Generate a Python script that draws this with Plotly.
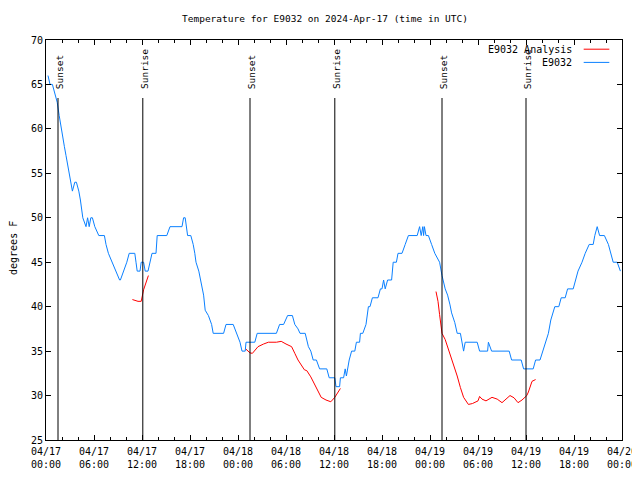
import plotly.graph_objects as go
from datetime import datetime, timedelta

BASE = datetime(2024, 4, 17, 0, 0)

# Observed temperature E9032 (hours since 04/17 00:00 UTC, deg F)
obs_hours = [0.25,0.5,0.8,1.1,1.4,1.65,1.9,2.3,2.5,2.7,2.9,3.1,3.3,3.6,3.8,4.1,4.3,4.6,5.0,5.2,5.4,5.6,5.8,6.1,6.6,7.3,7.5,7.8,8.25,8.75,9.2,9.3,9.75,10.1,10.4,11.1,11.25,11.4,11.75,11.9,12.2,12.4,12.75,13.0,13.25,13.75,13.9,15.1,15.5,17.0,17.2,17.4,17.7,18.1,18.4,18.6,18.75,19.1,19.3,19.7,19.9,20.3,20.7,20.9,22.2,22.5,23.4,23.8,24.25,24.5,24.9,25.0,26.1,26.4,28.8,29.2,29.7,30.2,30.8,31.1,31.5,31.75,32.4,32.8,33.1,33.4,33.8,34.2,35.1,35.4,36.1,36.25,36.7,36.8,37.2,37.4,37.55,37.9,38.2,38.6,38.8,39.2,39.3,39.6,40.0,40.3,40.5,40.8,41.5,41.8,42.0,42.2,42.4,42.7,43.2,43.4,43.8,44.0,44.5,44.9,45.3,46.4,46.7,46.9,47.1,47.2,47.3,47.5,47.8,48.2,48.6,49.2,49.5,49.9,50.2,50.5,50.7,51.1,51.4,51.8,52.2,52.4,53.9,54.2,55.2,55.3,55.5,55.7,57.9,58.2,59.4,59.7,60.9,61.2,61.75,62.1,62.5,62.8,63.1,63.6,64.1,64.4,64.9,65.2,65.9,66.2,66.5,67.0,67.4,67.9,68.4,68.6,68.9,69.2,69.8,70.3,70.6,70.9,71.4,71.8]
obs_temps = [66,65,65,64,63,61.5,60,58,57,56,55,54,53,54,54,53,52,50,49,50,49,50,50,49,48,48,47,46,45,44,43,43,44,45,46,46,45,44,44,45,45,44,44,45,46,46,48,48,49,49,50,50,48,48,47,46,45,44,43,41.3,39.6,39,38,37,37,38,38,37,36,35,35,36,36,37,37,38,38,39,39,38,37.5,37,37,35.5,35,34,34,33,33,32,32,31,31,32,32,33,32.2,34,35,35,36,36,37,37,38,40,40,41,41,42,42,43,42,43,43,45,45,46,46,47,48,48,49,48,49,48,49,48,48,47,46,45,43.5,42,41.3,40.2,39.3,38.2,37,37,35,36,36,35,35,36,35.5,35,35,34,34,33,33,34,34,35,36,37,38.5,40,40,41,41,42,42,43,44,45,46,47,47,48,49,48,48,47,46,45,45,44]

# Analysis E9032 (three separate segments)
ana1_hours = [10.8,11.5,11.9,12.2,12.8]
ana1_temps = [40.8,40.6,40.6,41.9,43.5]
ana2_hours = [24.9,25.5,25.8,26.5,27.2,27.8,28.8,29.4,30.0,30.7,31.1,31.5,32.3,32.6,33.1,33.8,34.4,35.0,35.6,36.1,36.8]
ana2_temps = [35.3,34.8,34.75,35.5,35.8,36.0,36.0,36.1,35.8,35.5,34.75,34.0,32.9,32.8,32.1,30.8,29.8,29.5,29.3,29.8,30.8]
ana3_hours = [48.75,49.0,49.2,49.5,49.9,50.5,50.9,51.4,51.8,52.2,52.8,53.3,54.0,54.2,54.5,55.0,55.75,56.4,57.0,58.0,58.5,59.0,59.5,60.1,60.3,60.75,61.2]
ana3_temps = [41.7,40.6,39.1,37.0,36.3,34.75,33.5,32.2,30.9,29.8,29.0,29.1,29.4,29.9,29.6,29.4,29.8,29.6,29.2,30.0,29.75,29.2,29.5,30.0,30.4,31.6,31.8]

# Sun events (hours since 04/17 00:00)
sun_hours = [1.5, 12.1, 25.5, 36.1, 49.5, 60.0]
sun_labels = ["Sunset", "Sunrise", "Sunset", "Sunrise", "Sunset", "Sunrise"]

title = "Temperature for E9032 on 2024-Apr-17 (time in UTC)"
ylabel = "degrees F"
legend_names = ["E9032 Analysis", "E9032"]
FONT = "DejaVu Sans Mono"
BLUE = "#0a80ff"
RED = "#ff0000"

def t(h):
    return BASE + timedelta(hours=h)

fig = go.Figure()
for hs, ts in [(ana1_hours, ana1_temps), (ana2_hours, ana2_temps), (ana3_hours, ana3_temps)]:
    fig.add_trace(go.Scatter(x=[t(h) for h in hs], y=ts, mode="lines",
                             line=dict(color=RED, width=1), showlegend=False, hoverinfo="skip"))
fig.add_trace(go.Scatter(x=[t(h) for h in obs_hours], y=obs_temps, mode="lines",
                         line=dict(color=BLUE, width=1), showlegend=False, hoverinfo="skip"))

shapes = []
annotations = []
for h, lab in zip(sun_hours, sun_labels):
    shapes.append(dict(type="line", xref="x", yref="paper", x0=t(h), x1=t(h), y0=0, y1=0.855,
                       line=dict(color="black", width=1)))
    annotations.append(dict(x=t(h), y=0.872, xref="x", yref="paper", text=lab, textangle=-90,
                            showarrow=False, xanchor="center", yanchor="bottom", xshift=1,
                            font=dict(family=FONT, size=9.5, color="black")))

# legend (gnuplot style: text then sample line)
for name, col, yp in [(legend_names[0], RED, 0.977), (legend_names[1], BLUE, 0.944)]:
    annotations.append(dict(x=0.9167, y=yp, xref="paper", yref="paper", text=name, showarrow=False,
                            xanchor="right", yanchor="middle",
                            font=dict(family=FONT, size=10, color="black")))
    shapes.append(dict(type="line", xref="paper", yref="paper", x0=0.9335, x1=0.978, y0=yp, y1=yp,
                       line=dict(color=col, width=1)))

annotations.append(dict(x=-0.0573, y=0.48, xref="paper", yref="paper", text=ylabel, textangle=-90,
                        showarrow=False, xanchor="center", yanchor="middle",
                        font=dict(family=FONT, size=10, color="black")))

fig.update_layout(
    width=632, height=464, autosize=False,
    margin=dict(l=38, r=18, t=32, b=32),
    paper_bgcolor="white", plot_bgcolor="white",
    title=dict(text=title, x=0.5016, xanchor="center", y=0.976, yanchor="middle",
               font=dict(family=FONT, size=9.5, color="black")),
    shapes=shapes, annotations=annotations,
    showlegend=False,
)
fig.update_xaxes(
    range=[t(0), t(72)], type="date", automargin=False,
    tickmode="linear", tick0=t(0), dtick=6 * 3600 * 1000,
    tickformat="%m/%d<br>%H:%M", ticklabelstandoff=2,
    ticks="inside", ticklen=5, tickcolor="black",
    minor=dict(ticks="inside", dtick=2 * 3600 * 1000, tick0=t(0), ticklen=3, tickcolor="black"),
    showline=True, linecolor="black", linewidth=1, mirror="ticks",
    showgrid=False, zeroline=False,
    tickfont=dict(family=FONT, size=10, color="black"),
)
fig.update_yaxes(
    range=[25, 70], dtick=5, tick0=25, automargin=False,
    ticks="inside", ticklen=5, tickcolor="black",
    showline=True, linecolor="black", linewidth=1, mirror="ticks",
    showgrid=False, zeroline=False,
    tickfont=dict(family=FONT, size=10, color="black"),
)
fig.write_html("out.html", config={"responsive": False})
